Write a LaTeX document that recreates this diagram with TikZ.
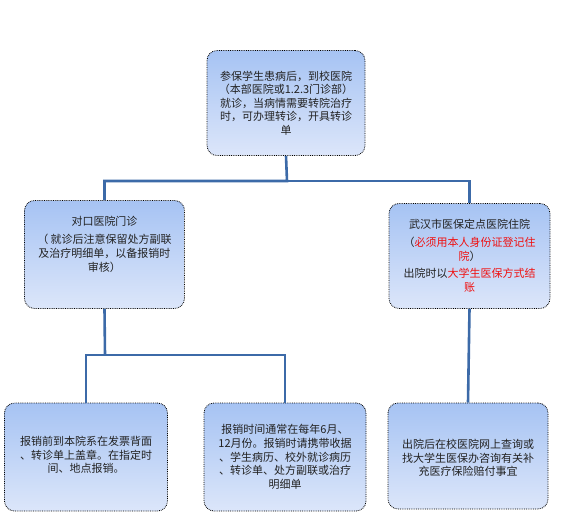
\documentclass[tikz,border=0pt]{standalone}
\usepackage{fontspec}
\newfontfamily\cjkfont{Noto Sans CJK SC}
\definecolor{boxtop}{HTML}{A6C3F3}
\definecolor{boxbot}{HTML}{DCE6FA}
\definecolor{linkblue}{HTML}{3C6AA8}
\definecolor{txt}{HTML}{222222}
\definecolor{redtxt}{HTML}{F01010}
\begin{document}
\begin{tikzpicture}[x=1pt,y=-1pt,
  box/.style={draw=black, densely dotted, line width=0.8pt, rounded corners=10pt,
    top color=boxtop, bottom color=boxbot, inner sep=0pt},
  lbl/.style={align=center, text=txt, inner sep=0pt,
    font=\cjkfont\fontsize{11}{13.6}\selectfont},
  link/.style={draw=linkblue, line width=2.6pt}]
\useasboundingbox (0,0) rectangle (581,516);

% boxes (minimum width/height in pt = px)
\node[box, minimum width=158pt, minimum height=105pt] (top) at (286,103) {};
\node[box, minimum width=160pt, minimum height=108pt] (left) at (104.5,254.5) {};
\node[box, minimum width=161pt, minimum height=105pt] (right) at (469.5,256) {};
\node[box, minimum width=163pt, minimum height=108pt] (bl) at (86,457) {};
\node[box, minimum width=162pt, minimum height=108pt] (bm) at (285,457) {};
\node[box, minimum width=160pt, minimum height=106pt] (br) at (468,456) {};

% texts
\node[lbl] (toptext) at (286,103) {参保学生患病后，到校医院\\（本部医院或1.2.3门诊部）\\就诊，当病情需要转院治疗\\时，可办理转诊，开具转诊\\单};
\node[lbl] (lefttext) at (104.5,244) {对口医院门诊\\[5pt]（ 就诊后注意保留处方副联\\及治疗明细单，以备报销时\\审核）};
\node[lbl] (righttext) at (469.5,256) {武汉市医保定点医院住院\\[4pt]（\textcolor{redtxt}{必须用本人身份证登记住}\\\textcolor{redtxt}{院}）\\[4pt]出院时以\textcolor{redtxt}{大学生医保方式结}\\\textcolor{redtxt}{账}};
\node[lbl] (bltext) at (86,455) {报销前到本院系在发票背面\\、转诊单上盖章。在指定时\\间、地点报销。};
\node[lbl] (bmtext) at (285,457) {报销时间通常在每年6月、\\12月份。报销时请携带收据\\、学生病历、校外就诊病历\\、转诊单、处方副联或治疗\\明细单};
\node[lbl] (brtext) at (468,458) {出院后在校医院网上查询或\\找大学生医保办咨询有关补\\充医疗保险赔付事宜};

% connectors
\coordinate (j1) at (287,181);
\coordinate (j2) at (105,355);
\draw[link] (top.south) -- (j1) -| (left.north);
\draw[link] (j1) -| (right.north);
\draw[link] (left.south) -- (j2);
\draw[link] (j2) -| (bl.north);
\draw[link] (j2) -| (bm.north);
\draw[link] (right.south) -- (br.north);
\end{tikzpicture}
\end{document}
